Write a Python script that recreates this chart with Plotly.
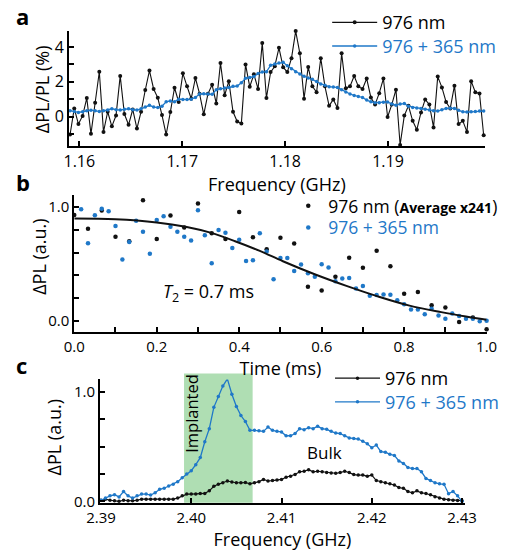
import numpy as np
import plotly.graph_objects as go

BLUE = "#1f78c8"
BLACK = "#111111"
FONT = "Open Sans"

# ---------------- Panel a data ----------------
a_f_start, a_f_stop = 1.1591, 1.1993
a_black = [-1.03, 0.47, -0.43, 0.04, 1.07, -0.99, 0.80, 2.58, -0.88, 0.28,
           -0.56, 0.06, 2.34, 0.15, -0.47, 0.41, -0.69, 0.28, 1.53, 2.65,
           1.59, 1.08, 0.09, -1.03, 0.26, 1.66, 0.84, 2.49, 1.74, 1.03,
           2.22, 1.31, 0.13, 1.31, 1.83, 0.75, 3.08, 1.23, 2.04, 0.28,
           -0.28, -0.39, 3.00, 1.72, 2.43, 1.59, 4.24, 1.07, 2.56, 2.90,
           3.96, 2.84, 2.56, 3.36, 4.92, 3.64, 1.03, 2.86, 1.74, 1.40,
           3.36, 1.74, 0.62, 0.99, 0.50, 3.64, 1.63, 1.74, 2.34, 1.74,
           1.59, 2.19, 1.10, 0.69, 1.35, 2.19, -0.02, 0.69, 1.55, -1.63,
           0.06, 0.62, -0.24, -0.75, 0.24, 0.99, 0.69, -0.62, 2.30, 1.68,
           0.84, 0.47, 1.78, -0.43, -0.24, -0.88, 2.04, 1.40, 1.33, -1.07]
a_blue = [0.34, 0.30, 0.24, 0.28, 0.33, 0.37, 0.33, 0.30, 0.33, 0.38,
          0.45, 0.40, 0.38, 0.42, 0.45, 0.40, 0.38, 0.45, 0.55, 0.65,
          0.55, 0.52, 0.60, 0.85, 0.90, 0.85, 1.00, 0.98, 0.98, 1.00,
          1.10, 1.30, 1.32, 1.30, 1.28, 1.55, 1.60, 1.65, 1.68, 1.74,
          1.76, 1.95, 2.20, 2.25, 2.30, 2.48, 2.56, 2.58, 2.95, 3.02,
          3.08, 3.12, 2.92, 2.75, 2.58, 2.45, 2.32, 2.22, 2.15, 2.02,
          1.88, 1.80, 1.72, 1.70, 1.68, 1.55, 1.42, 1.30, 1.22, 1.15,
          1.10, 0.95, 0.85, 0.80, 0.80, 0.82, 0.84, 0.72, 0.66, 0.72,
          0.75, 0.60, 0.53, 0.50, 0.47, 0.42, 0.38, 0.34, 0.32, 0.40,
          0.47, 0.48, 0.47, 0.36, 0.28, 0.26, 0.28, 0.30, 0.32, 0.32]
a_freq = np.linspace(a_f_start, a_f_stop, len(a_black))

# ---------------- Panel b data ----------------
b_black = [0.93, 0.81, 0.97, 0.74, 0.70, 1.06, 0.72, 0.925, 0.82, 1.03,
           0.77, 0.72, 0.957, 0.735, 0.63, 0.73, 0.68, 0.30, 0.268, 0.389,
           0.556, 0.467, 0.617, 0.481, 0.239, 0.254, 0.138, 0.118, -0.009, 0.03,
           -0.072]
b_t_black = np.linspace(0.0, 1.0, len(b_black))
b_blue = [0.98, 0.683, 0.928, 0.985, 0.963, 0.833, 0.539, 0.692, 0.88, 0.784,
          0.59, 0.885, 0.919, 0.827, 0.784, 0.74, 0.706, 0.971, 0.752, 0.507,
          0.798, 0.775, 0.64, 0.712, 0.527, 0.533, 0.769, 0.61, 0.366, 0.553,
          0.553, 0.438, 0.496, 0.418, 0.389, 0.499, 0.47, 0.349, 0.372, 0.378,
          0.285, 0.308, 0.222, 0.228, 0.233, 0.231, 0.182, 0.147, 0.10, 0.10,
          0.06, 0.107, 0.049, 0.02, 0.066, 0.043, 0.02, 0.02, -0.003, 0.003]
b_t_blue = np.linspace(1.0 / 60, 1.0, len(b_blue))
b_fit_t = [0.0, 0.1, 0.2, 0.27, 0.33, 0.39, 0.45, 0.506, 0.583, 0.66, 0.736, 0.813, 0.89, 0.95, 1.0]
b_fit_v = [0.90, 0.893, 0.865, 0.827, 0.775, 0.70, 0.615, 0.524, 0.41, 0.308, 0.216, 0.135, 0.078, 0.04, 0.012]

# ---------------- Panel c data ----------------
c_blue = [0.01, 0.03, 0.05, 0.06, 0.04, 0.09, 0.05, 0.03, 0.05, 0.066,
          0.066, 0.057, 0.078, 0.11, 0.12, 0.14, 0.156, 0.18, 0.216, 0.25,
          0.28, 0.335, 0.40, 0.545, 0.665, 0.86, 0.96, 1.054, 1.12, 0.98,
          0.868, 0.785, 0.73, 0.65,
          0.65, 0.645, 0.64, 0.68, 0.65, 0.64, 0.635, 0.60, 0.60, 0.62,
          0.665, 0.656, 0.674, 0.665, 0.686, 0.665, 0.659, 0.64, 0.625, 0.62,
          0.60, 0.58, 0.575, 0.57, 0.55, 0.527, 0.49, 0.515, 0.455, 0.449,
          0.43, 0.42, 0.37, 0.347, 0.31, 0.30, 0.30, 0.27, 0.21, 0.19,
          0.17, 0.16, 0.156, 0.07, 0.09, 0.05, 0.0]
c_black = [0.01, 0.02, 0.01, 0.005, 0.0, 0.01, 0.005, 0.005, 0.01, 0.02,
           0.02, 0.02, 0.02, 0.018, 0.018, 0.018, 0.02, 0.03, 0.05, 0.066,
           0.066, 0.066, 0.072, 0.072, 0.096, 0.138, 0.156, 0.17, 0.186, 0.177,
           0.17, 0.17, 0.172, 0.16, 0.17, 0.18, 0.20, 0.186, 0.19, 0.195,
           0.20, 0.22, 0.23, 0.245, 0.27, 0.275, 0.29, 0.27, 0.275, 0.27,
           0.263, 0.26, 0.257, 0.263, 0.275, 0.263, 0.245, 0.24, 0.24, 0.23,
           0.24, 0.19, 0.18, 0.17, 0.16, 0.15, 0.126, 0.12, 0.09, 0.078,
           0.096, 0.078, 0.072, 0.06, 0.042, 0.03, 0.02, 0.015, 0.01, 0.008,
           0.006]
c_freq = np.linspace(2.39, 2.43, len(c_blue))
c_implanted = (2.3992, 2.4068)

# ---------------- figure ----------------
W, H = 510, 555
def px(x):
    return x / W
def py(y):
    return 1 - y / H

fig = go.Figure()

# panel a
fig.add_trace(go.Scatter(x=a_freq, y=a_black, mode="lines+markers", name="976 nm",
                         line=dict(color=BLACK, width=1.1), marker=dict(color=BLACK, size=4),
                         xaxis="x", yaxis="y", cliponaxis=False, legend="legend"))
fig.add_trace(go.Scatter(x=a_freq, y=a_blue, mode="lines+markers",
                         name="<span style='color:%s'>976 + 365 nm</span>" % BLUE,
                         line=dict(color=BLUE, width=1.3), marker=dict(color=BLUE, size=3.5),
                         xaxis="x", yaxis="y", cliponaxis=False, legend="legend2"))
# panel b
fig.add_trace(go.Scatter(x=b_t_black, y=b_black, mode="markers",
                         name="976 nm (<b><span style='font-size:14px'>Average x241</span></b>)",
                         marker=dict(color=BLACK, size=4.5),
                         xaxis="x2", yaxis="y2", cliponaxis=False, legend="legend3"))
fig.add_trace(go.Scatter(x=b_t_blue, y=b_blue, mode="markers",
                         name="<span style='color:%s'>976 + 365 nm</span>" % BLUE,
                         marker=dict(color=BLUE, size=4.5),
                         xaxis="x2", yaxis="y2", cliponaxis=False, legend="legend4"))
fig.add_trace(go.Scatter(x=b_fit_t, y=b_fit_v, mode="lines", line=dict(color=BLACK, width=2, shape="spline"),
                         xaxis="x2", yaxis="y2", showlegend=False, cliponaxis=False))
# panel c
fig.add_trace(go.Scatter(x=c_freq, y=c_black, mode="lines+markers", name="976 nm",
                         line=dict(color=BLACK, width=1.2), marker=dict(color=BLACK, size=3.5),
                         xaxis="x3", yaxis="y3", cliponaxis=False, legend="legend5"))
fig.add_trace(go.Scatter(x=c_freq, y=c_blue, mode="lines+markers",
                         name="<span style='color:%s'>976 + 365 nm</span>" % BLUE,
                         line=dict(color=BLUE, width=1.3), marker=dict(color=BLUE, size=3.5),
                         xaxis="x3", yaxis="y3", cliponaxis=False, legend="legend6"))

axis_common = dict(showline=True, linewidth=2, linecolor="black", ticks="inside", ticklen=5,
                   tickwidth=1.5, tickcolor="black", showgrid=False, zeroline=False,
                   mirror=False, tickfont=dict(size=16, family=FONT, color="black"),
                   title_font=dict(size=18, family=FONT, color="black"))

fig.update_layout(
    width=W, height=H, margin=dict(l=0, r=0, t=0, b=0),
    paper_bgcolor="white", plot_bgcolor="white",
    font=dict(family=FONT, color="black", size=16),
    xaxis=dict(axis_common, domain=[px(58), px(496)], anchor="y", range=[1.1590, 1.1994],
               dtick=0.01, tick0=1.16, tickformat=".2f",
               title=dict(text="Frequency (GHz)", standoff=0)),
    yaxis=dict(axis_common, domain=[py(148.3), py(31)], anchor="x", range=[-1.7, 4.95],
               dtick=2, tick0=0,
               minor=dict(ticks="inside", dtick=1, tick0=0, ticklen=5, tickwidth=1.5, tickcolor="black", showgrid=False)),
    xaxis2=dict(axis_common, domain=[px(63.5), px(498)], anchor="y2", range=[0, 1.0],
                dtick=0.2, tick0=0, tickformat=".1f",
                tickfont=dict(size=15, family=FONT, color="black"),
                minor=dict(ticks="inside", dtick=0.1, tick0=0, ticklen=5, tickwidth=1.5, tickcolor="black", showgrid=False),
                title=dict(text="Time (ms)", standoff=6)),
    yaxis2=dict(axis_common, domain=[py(336.7), py(198)], anchor="x2", range=[-0.095, 1.104],
                dtick=1, tick0=0, tickformat=".1f",
                tickfont=dict(size=15, family=FONT, color="black"),
                minor=dict(ticks="inside", dtick=0.2, tick0=0, ticklen=5, tickwidth=1.5, tickcolor="black", showgrid=False)),
    xaxis3=dict(axis_common, domain=[px(90.7), px(475)], anchor="y3", range=[2.3899, 2.4303],
                dtick=0.01, tick0=2.39, tickformat=".2f",
                tickfont=dict(size=15, family=FONT, color="black"),
                title=dict(text="Frequency (GHz)", standoff=6)),
    yaxis3=dict(axis_common, domain=[py(510), py(385)], anchor="x3", range=[-0.012, 1.115],
                dtick=1, tick0=0, tickformat=".1f",
                tickfont=dict(size=15, family=FONT, color="black"),
                minor=dict(ticks="inside", dtick=0.25, tick0=0, ticklen=5, tickwidth=1.5, tickcolor="black", showgrid=False)),
)

leg_line = dict(bgcolor="rgba(0,0,0,0)", borderwidth=0, font=dict(size=18, family=FONT, color="black"),
                xanchor="left", yanchor="middle", tracegroupgap=0, itemwidth=45)
leg_dot = dict(bgcolor="rgba(0,0,0,0)", borderwidth=0, font=dict(size=17.5, family=FONT, color="black"),
               xanchor="left", yanchor="middle", tracegroupgap=0)
fig.update_layout(
    legend=dict(leg_line, x=px(330), y=py(23)),
    legend2=dict(leg_line, x=px(330), y=py(47)),
    legend3=dict(leg_dot, x=px(289), y=py(209)),
    legend4=dict(leg_dot, x=px(289), y=py(231)),
    legend5=dict(leg_line, x=px(333), y=py(384)),
    legend6=dict(leg_line, x=px(333), y=py(408)),
)

fig.add_shape(type="rect", xref="x3", yref="paper", x0=c_implanted[0], x1=c_implanted[1],
              y0=py(510), y1=py(379), fillcolor="#afdeb3", line=dict(width=0), layer="below")

ann_font = dict(family=FONT, color="black")
def ann(x, y, text, size, xref="paper", yref="paper", angle=0, bold=False):
    fig.add_annotation(x=x, y=y, xref=xref, yref=yref, text=text, showarrow=False,
                       xanchor="center", yanchor="middle", textangle=angle,
                       font=dict(ann_font, size=size))

ann(px(9), py(16), "<b>a</b>", 22)
ann(px(9), py(185), "<b>b</b>", 22)
ann(px(8), py(370), "<b>c</b>", 22)
# y-axis titles
ann(px(29), py(91), "ΔPL/PL (%)", 18, angle=-90)
ann(px(27), py(261), "ΔPL (a.u.)", 18, angle=-90)
ann(px(42), py(444), "ΔPL (a.u.)", 18, angle=-90)
# in-plot labels
ann(0.326, 0.25, "<i>T</i><sub>2</sub> = 0.7 ms", 18, xref="x2", yref="y2")
ann(2.40007, py(419), "Implanted", 16.5, xref="x3", angle=-90)
ann(2.4148, 0.45, "Bulk", 17, xref="x3", yref="y3")

fig.write_html("out.html")
